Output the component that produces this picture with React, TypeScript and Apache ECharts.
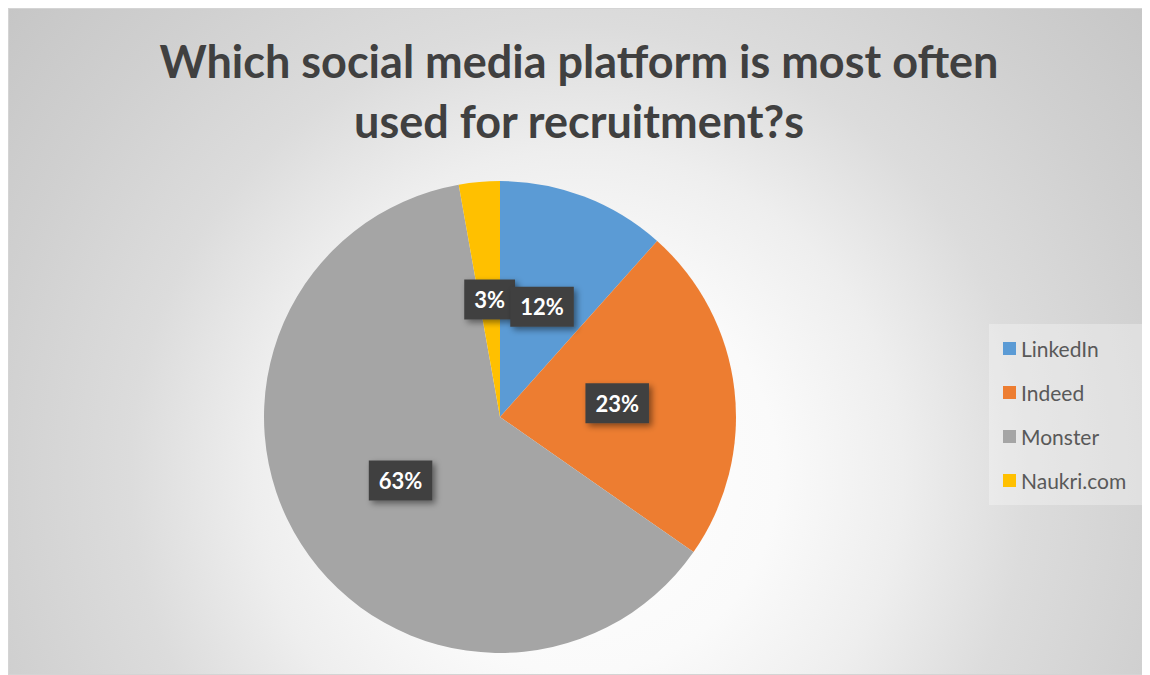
import React, { useEffect, useRef } from "react";
import * as echarts from "echarts";

const titleLines = ["Which social media platform is most often", "used for recruitment?s"];
const categories = ["LinkedIn", "Indeed", "Monster", "Naukri.com"];
const values = [11.6, 23.1, 62.5, 2.8];
const colors = ["#5B9BD5", "#ED7D31", "#A5A5A5", "#FFC000"];

export default function App() {
  const ref = useRef<HTMLDivElement>(null);
  useEffect(() => {
    if (!ref.current) return;
    const chart = echarts.init(ref.current, undefined, { renderer: "svg" });
    chart.setOption({
      animation: false,
      backgroundColor: "transparent",
      title: {
        text: titleLines.join("\n"),
        left: "center",
        top: 17,
        textStyle: {
          fontFamily: "Lato",
          fontWeight: "bold",
          fontSize: 45,
          lineHeight: 60,
          color: "#404040",
        },
      },
      legend: {
        orient: "vertical",
        left: 980,
        top: 315,
        padding: [14, 16, 14, 14],
        itemWidth: 13,
        itemHeight: 13,
        itemGap: 23,
        icon: "rect",
        backgroundColor: "rgba(255,255,255,0.3)",
        data: categories,
        textStyle: {
          fontFamily: "Lato",
          fontSize: 21,
          lineHeight: 21,
          color: "#595959",
        },
      },
      series: [
        {
          type: "pie",
          center: [491, 408],
          radius: 236,
          startAngle: 90,
          clockwise: true,
          avoidLabelOverlap: false,
          color: colors,
          data: categories.map((name, i) => ({ name, value: values[i] })),
          label: { show: false },
          labelLine: { show: false },
          emphasis: { disabled: true },
        },
      ],
    });

    // Data labels placed at the middle of each sector, from the pie's own layout
    const labels: any[] = [];
    try {
      const data = (chart as any).getModel().getSeriesByIndex(0).getData();
      const total = values.reduce((a, b) => a + b, 0);
      data.each((idx: number) => {
        const l = data.getItemLayout(idx);
        if (!l) return;
        const mid = (l.startAngle + l.endAngle) / 2;
        const rr = ((l.r || 0) + (l.r0 || 0)) / 2;
        labels.push({
          type: "text",
          x: l.cx + rr * Math.cos(mid),
          y: l.cy + rr * Math.sin(mid),
          z: 100 - idx,
          silent: true,
          style: {
            text: Math.round((values[idx] / total) * 100) + "%",
            fill: "#ffffff",
            font: "bold 22px Lato",
            lineHeight: 24,
            align: "center",
            verticalAlign: "middle",
            backgroundColor: "#414141",
            padding: [8, 10, 8, 10],
            shadowColor: "rgba(0,0,0,0.45)",
            shadowBlur: 6,
            shadowOffsetX: 3,
            shadowOffsetY: 3,
          },
        });
      });
    } catch (e) {
      // ignore
    }
    chart.setOption({ graphic: { elements: labels.reverse() } });

    return () => chart.dispose();
  }, []);
  return (
    <div
      ref={ref}
      style={{
        width: 1142,
        height: 667,
        boxSizing: "border-box",
        border: "1px solid #d4d4d4",
        background:
          "radial-gradient(circle farthest-corner at 50% 70%, #ffffff 0%, #fafafa 27%, #eeeeee 44%, #dcdcdc 61%, #d0d0d0 81%, #c6c6c6 100%)",
      }}
    />
  );
}
